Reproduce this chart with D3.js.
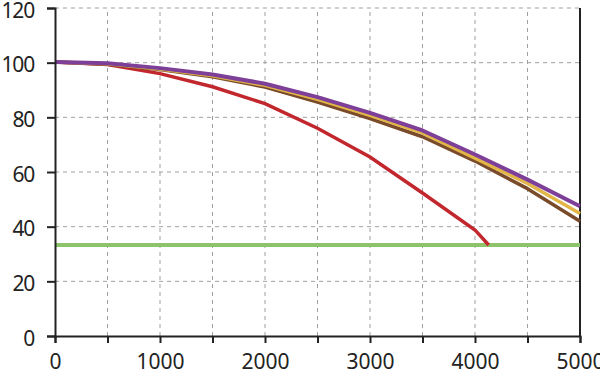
<!DOCTYPE html>
<html>
<head>
<meta charset="utf-8">
<script src="https://cdn.jsdelivr.net/npm/d3@7"></script>
<style>
  body { margin: 0; background: #fff; }
  text { font-family: "Noto Sans", sans-serif; fill: #222; }
</style>
</head>
<body>
<script>
// values
const xValues = [0, 500, 1000, 1500, 2000, 2500, 3000, 3500, 4000, 4500, 5000];
const purpleValues = [100.2, 99.8, 98.0, 95.7, 92.3, 87.4, 81.6, 75.2, 66.4, 57.2, 47.5];
const yellowValues = [100.2, 99.6, 97.7, 95.2, 91.7, 86.6, 80.7, 74.3, 65.1, 55.8, 44.8];
const brownValues = [100.2, 99.4, 97.5, 94.8, 91.1, 85.6, 79.5, 72.9, 64.0, 53.9, 42.0];
const redX = [0, 500, 1000, 1500, 2000, 2500, 3000, 3500, 4000, 4130];
const redValues = [100.2, 99.3, 96.0, 91.2, 85.0, 76.0, 65.5, 52.3, 38.8, 33.3];
const limitValue = 33.3;
const xTicks = [0, 1000, 2000, 3000, 4000, 5000];
const yTicks = [0, 20, 40, 60, 80, 100, 120];

const width = 600, height = 374;
const margin = {left: 55, right: 20, top: 8, bottom: 38};

const svg = d3.select("body")
    .append("svg")
    .attr("width", width)
    .attr("height", height)

const x = d3.scaleLinear().domain([0, 5000]).range([margin.left, width - margin.right]);
const y = d3.scaleLinear().domain([0, 120]).range([height - margin.bottom, margin.top]);

// grid
svg.append("g")
    .selectAll("line")
    .data(d3.range(500, 5000, 500))
    .enter().append("line")
    .attr("x1", d => x(d)).attr("x2", d => x(d))
    .attr("y1", y(0)).attr("y2", y(120))
    .attr("stroke", "#a0a0a0")
    .attr("stroke-dasharray", "4,4");
svg.append("g")
    .selectAll("line")
    .data(yTicks.slice(1))
    .enter().append("line")
    .attr("x1", x(0)).attr("x2", x(5000))
    .attr("y1", d => y(d)).attr("y2", d => y(d))
    .attr("stroke", "#a0a0a0")
    .attr("stroke-dasharray", "4,4");

// right border
svg.append("line")
    .attr("x1", x(5000)).attr("x2", x(5000))
    .attr("y1", y(0)).attr("y2", y(120))
    .attr("stroke", "#222").attr("stroke-width", 2);

const line = d3.line().x(d => x(d[0])).y(d => y(d[1]));

const series = [
  {vals: brownValues, color: "#7a4b2a", w: 3.5},
  {vals: yellowValues, color: "#e2b547", w: 3.5},
  {vals: purpleValues, color: "#7d3f98", w: 4}
];

svg.append("line")
    .attr("x1", x(0)).attr("x2", x(5000))
    .attr("y1", y(limitValue)).attr("y2", y(limitValue))
    .attr("stroke", "#8dc46b").attr("stroke-width", 4);

svg.append("path")
    .datum(redX.map((d, i) => [d, redValues[i]]))
    .attr("d", line)
    .attr("fill", "none")
    .attr("stroke", "#c1272d")
    .attr("stroke-width", 3.5);

series.forEach(s => {
  svg.append("path")
      .datum(xValues.map((d, i) => [d, s.vals[i]]))
      .attr("d", line)
      .attr("fill", "none")
      .attr("stroke", s.color)
      .attr("stroke-width", s.w)
      .attr("stroke-linejoin", "round");
});

// axes
const xAxis = d3.axisBottom(x)
    .tickValues(d3.range(0, 5001, 500))
    .tickSize(7)
    .tickPadding(11)
    .tickFormat(d => xTicks.includes(d) ? d : "");
const gx = svg.append("g")
    .attr("transform", "translate(0," + y(0) + ")")
    .call(xAxis);
gx.select(".domain").attr("stroke", "#222").attr("stroke-width", 2);
gx.selectAll(".tick line").attr("stroke", "#222").attr("stroke-width", 2);
gx.selectAll(".tick text").attr("font-size", 21).attr("fill", "#222");

const yAxis = d3.axisLeft(y)
    .tickValues(yTicks)
    .tickSize(8)
    .tickPadding(13);
const gy = svg.append("g")
    .attr("transform", "translate(" + x(0) + ",0)")
    .call(yAxis);
gy.select(".domain").attr("stroke", "#222").attr("stroke-width", 2);
gy.selectAll(".tick line").attr("stroke", "#222").attr("stroke-width", 2);
gy.selectAll(".tick text")
    .attr("font-size", 21)
    .attr("letter-spacing", "-1.2px")
    .attr("dy", "0.44em")
    .attr("fill", "#222");
</script>
</body>
</html>
